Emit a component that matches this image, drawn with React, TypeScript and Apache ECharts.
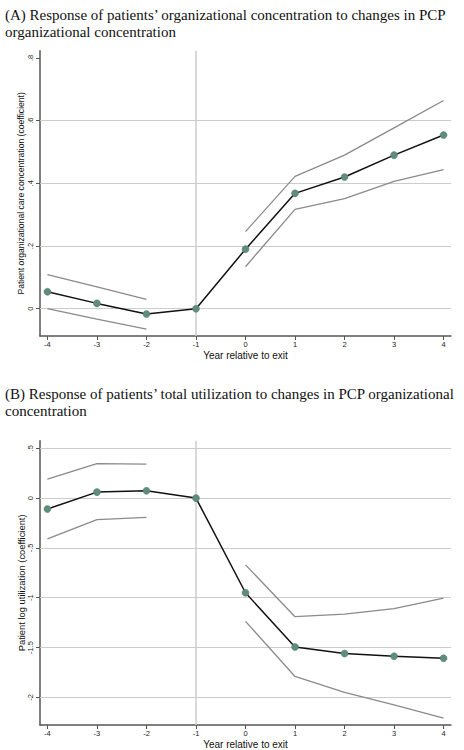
import React, { useEffect, useRef } from "react";
import * as echarts from "echarts";

const years = [-4, -3, -2, -1, 0, 1, 2, 3, 4];

const concCoef = [0.054, 0.017, -0.017, 0, 0.19, 0.368, 0.42, 0.49, 0.554];
const concUpper = [0.109, 0.07, 0.03, null, 0.246, 0.422, 0.49, 0.577, 0.664];
const concLower = [0.0, -0.033, -0.065, null, 0.134, 0.317, 0.351, 0.406, 0.444];

const utilCoef = [-0.11, 0.06, 0.073, 0, -0.95, -1.494, -1.56, -1.587, -1.607];
const utilUpper = [0.19, 0.346, 0.34, null, -0.67, -1.19, -1.164, -1.11, -1.004];
const utilLower = [-0.41, -0.217, -0.194, null, -1.237, -1.79, -1.95, -2.074, -2.207];

const concTicks = [0, 0.2, 0.4, 0.6, 0.8];
const concGrid = [0, 0.2, 0.4, 0.6];
const utilTicks = [-2, -1.5, -1, -0.5, 0, 0.5];
const utilGrid = [-2, -1.5, -1, -0.5, 0, 0.5];
const eventYear = -1;

const titleA = "(A) Response of patients\u2019 organizational concentration to changes in PCP\norganizational concentration";
const titleB = "(B) Response of patients\u2019 total utilization to changes in PCP organizational\nconcentration";
const yNameA = "Patient organizational care concentration (coefficient)";
const yNameB = "Patient log utilization (coefficient)";
const xName = "Year relative to exit";

const SANS = "Liberation Sans, Arial, sans-serif";
const SERIF = "Liberation Serif, Times New Roman, serif";

const pairs = (vals: (number | null)[]) =>
  years.map((x, i) => [x, vals[i] === null ? "-" : vals[i]]);

const fmt = (v: number) => {
  if (v === 0) return "0";
  let s = String(v);
  s = s.replace(/^0\./, ".").replace(/^-0\./, "-.");
  return s;
};

export default function App() {
  const ref = useRef<HTMLDivElement>(null);
  useEffect(() => {
    document.body.style.margin = "0";
    const chart = echarts.init(ref.current!, null, { renderer: "svg" });

    const xAxisBase = (gridIndex: number) => ({
      type: "value" as const,
      gridIndex,
      min: -4.15,
      max: 4.15,
      name: xName,
      nameLocation: "middle" as const,
      nameGap: 14,
      nameMoveOverlap: false,
      nameTextStyle: { fontFamily: SANS, fontSize: 10, color: "#111", verticalAlign: "top" as const },
      axisLine: { onZero: false, lineStyle: { color: "#555", width: 1.5 } },
      axisTick: { show: true, length: 4, customValues: years, lineStyle: { color: "#555", width: 1 } },
      axisLabel: { customValues: years, fontFamily: SANS, fontSize: 7.5, color: "#222", margin: 4 },
      splitLine: { show: false },
    });

    const yAxisBase = (gridIndex: number, min: number, max: number, ticks: number[], name: string, nameSize: number) => ({
      type: "value" as const,
      gridIndex,
      min,
      max,
      name,
      nameLocation: "middle" as const,
      nameGap: 14.5,
      nameMoveOverlap: false,
      nameTextStyle: { fontFamily: SANS, fontSize: nameSize, color: "#111" },
      axisLine: { show: true, onZero: false, lineStyle: { color: "#555", width: 1.5 } },
      axisTick: { show: true, length: 4, customValues: ticks, lineStyle: { color: "#555", width: 1 } },
      axisLabel: {
        customValues: ticks,
        rotate: 90,
        fontFamily: SANS,
        fontSize: 7.5,
        color: "#222",
        margin: 6,
        formatter: (v: number) => fmt(Math.round(v * 100) / 100),
      },
      splitLine: { show: false },
    });

    const ci = (xi: number, yi: number, vals: (number | null)[], grid?: number[]) => ({
      type: "line" as const,
      xAxisIndex: xi,
      yAxisIndex: yi,
      data: pairs(vals),
      showSymbol: false,
      symbol: "none",
      connectNulls: false,
      z: 3,
      lineStyle: { color: "#8a8a8a", width: 1.3 },
      markLine: grid
        ? {
            silent: true,
            z: 1,
            symbol: ["none", "none"],
            label: { show: false },
            animation: false,
            data: [
              ...grid.map((g) => ({ yAxis: g, lineStyle: { color: "#cccccc", width: 1.2, type: "solid" as const } })),
              { xAxis: eventYear, lineStyle: { color: "#cccccc", width: 1.5, type: "solid" as const } },
            ],
          }
        : undefined,
    });

    const main = (xi: number, yi: number, vals: number[]) => ({
      type: "line" as const,
      xAxisIndex: xi,
      yAxisIndex: yi,
      data: pairs(vals),
      symbol: "circle",
      symbolSize: 7,
      showSymbol: true,
      z: 4,
      lineStyle: { color: "#111", width: 1.5 },
      itemStyle: { color: "#5f8c7c", borderColor: "#4f7a6b", borderWidth: 0.5 },
    });

    chart.setOption({
      animation: false,
      backgroundColor: "#fff",
      title: [
        {
          text: titleA,
          left: 0,
          top: 1,
          textStyle: { fontFamily: SERIF, fontSize: 15, fontWeight: "normal", color: "#111", lineHeight: 17 },
        },
        {
          text: titleB,
          left: 0,
          top: 380,
          textStyle: { fontFamily: SERIF, fontSize: 15, fontWeight: "normal", color: "#111", lineHeight: 17 },
        },
      ],
      grid: [
        { left: 40, width: 411, top: 50.7, height: 285.3 },
        { left: 40, width: 411, top: 440.7, height: 285.3 },
      ],
      xAxis: [xAxisBase(0), xAxisBase(1)],
      yAxis: [
        yAxisBase(0, -0.087, 0.823, concTicks, yNameA, 8.6),
        yAxisBase(1, -2.277, 0.576, utilTicks, yNameB, 9.4),
      ],
      series: [
        ci(0, 0, concUpper, concGrid),
        ci(0, 0, concLower),
        main(0, 0, concCoef),
        ci(1, 1, utilUpper, utilGrid),
        ci(1, 1, utilLower),
        main(1, 1, utilCoef),
      ],
    });
    return () => chart.dispose();
  }, []);
  return <div ref={ref} style={{ width: 464, height: 750 }} />;
}
